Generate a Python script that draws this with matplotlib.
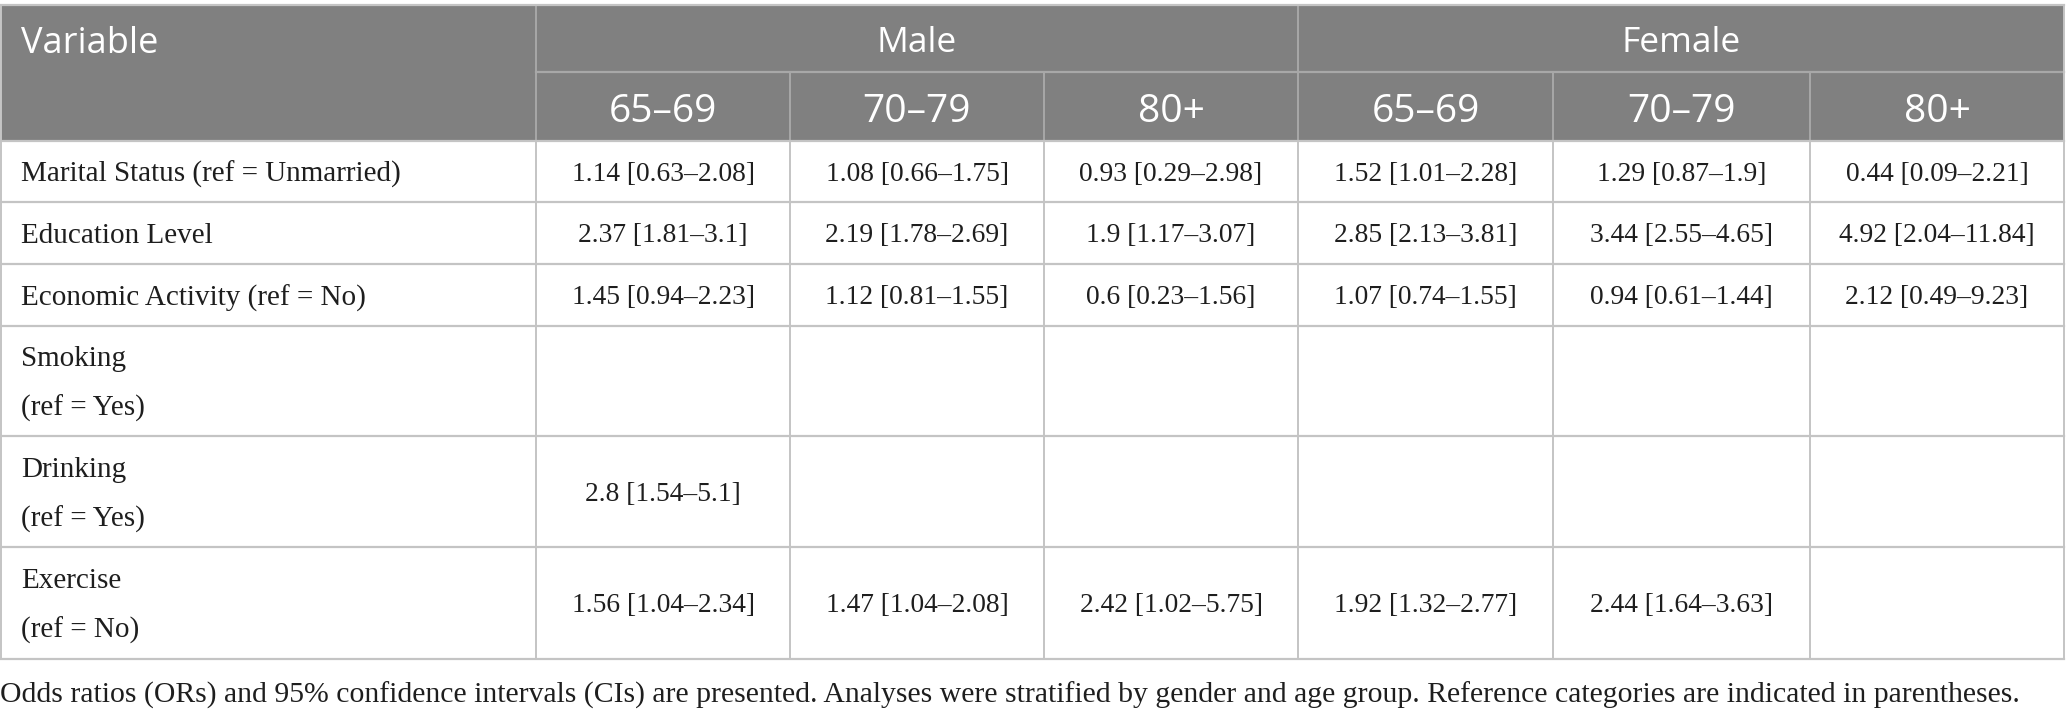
import matplotlib
matplotlib.use("Agg")
import matplotlib.pyplot as plt
from matplotlib.patches import Rectangle

# ---- data ----
variables = ["Marital Status (ref = Unmarried)", "Education Level", "Economic Activity (ref = No)",
             "Smoking\n(ref = Yes)", "Drinking\n(ref = Yes)", "Exercise\n(ref = No)"]
groups = ["Male", "Female"]
age_groups = ["65–69", "70–79", "80+"]
male_65_69 = ["1.14 [0.63–2.08]", "2.37 [1.81–3.1]", "1.45 [0.94–2.23]", "", "2.8 [1.54–5.1]", "1.56 [1.04–2.34]"]
male_70_79 = ["1.08 [0.66–1.75]", "2.19 [1.78–2.69]", "1.12 [0.81–1.55]", "", "", "1.47 [1.04–2.08]"]
male_80p = ["0.93 [0.29–2.98]", "1.9 [1.17–3.07]", "0.6 [0.23–1.56]", "", "", "2.42 [1.02–5.75]"]
female_65_69 = ["1.52 [1.01–2.28]", "2.85 [2.13–3.81]", "1.07 [0.74–1.55]", "", "", "1.92 [1.32–2.77]"]
female_70_79 = ["1.29 [0.87–1.9]", "3.44 [2.55–4.65]", "0.94 [0.61–1.44]", "", "", "2.44 [1.64–3.63]"]
female_80p = ["0.44 [0.09–2.21]", "4.92 [2.04–11.84]", "2.12 [0.49–9.23]", "", "", ""]
footnote = ("Odds ratios (ORs) and 95% confidence intervals (CIs) are presented. Analyses were stratified "
            "by gender and age group. Reference categories are indicated in parentheses.")

columns = [male_65_69, male_70_79, male_80p, female_65_69, female_70_79, female_80p]

# ---- layout (pixels) ----
W, H = 2067, 712
col_x = [1, 536, 790, 1044, 1298, 1553, 1810, 2064]
row_y = [5, 72, 141, 202, 264, 326, 436, 547, 659]
DY = 3  # text baseline nudge

HEAD_BG = "#808080"
GRID = "#c4c4c4"
HEAD_GRID = "#a8a8a8"
TXT = "#1e1e1e"
sans = ["Open Sans", "DejaVu Sans"]
serif = ["Liberation Serif", "DejaVu Serif"]

fig = plt.figure(figsize=(W / 100, H / 100), dpi=100)
ax = fig.add_axes([0, 0, 1, 1])
ax.set_xlim(0, W)
ax.set_ylim(H, 0)
ax.axis("off")

# header background
ax.add_patch(Rectangle((col_x[0], row_y[0]), col_x[-1] - col_x[0], row_y[2] - row_y[0],
                       facecolor=HEAD_BG, edgecolor="none"))

# header lines
ax.plot([col_x[1], col_x[-1]], [row_y[1], row_y[1]], color=HEAD_GRID, lw=1.6)
for i in range(1, len(col_x) - 1):
    top = row_y[0] if i in (1, 4) else row_y[1]
    ax.plot([col_x[i], col_x[i]], [top, row_y[2]], color=HEAD_GRID, lw=1.4)

# body grid
for y in row_y[2:]:
    ax.plot([col_x[0], col_x[-1]], [y, y], color=GRID, lw=1.6)
for x in col_x:
    ax.plot([x, x], [row_y[2], row_y[-1]], color=GRID, lw=1.4)
# outer header border
ax.plot([col_x[0], col_x[-1]], [row_y[0], row_y[0]], color=GRID, lw=1.6)
ax.plot([col_x[0], col_x[0]], [row_y[0], row_y[2]], color=GRID, lw=1.4)
ax.plot([col_x[-1], col_x[-1]], [row_y[0], row_y[2]], color=GRID, lw=1.4)

# header text
ax.text(col_x[0] + 20, 41 + DY, "Variable", family=sans, fontsize=26, color="white",
        ha="left", va="center")
for g, name in enumerate(groups):
    cx = (col_x[1 + 3 * g] + col_x[4 + 3 * g]) / 2
    ax.text(cx, 40 + DY, name, family=sans, fontsize=25.5, color="white", ha="center", va="center")
    for a, ag in enumerate(age_groups):
        c = 1 + 3 * g + a
        ax.text((col_x[c] + col_x[c + 1]) / 2, 109 + DY, ag, family=sans, fontsize=28,
                color="white", ha="center", va="center")

# body text
FS_LABEL = 21
FS_CELL = 19.8
for r, var in enumerate(variables):
    y0, y1 = row_y[2 + r], row_y[3 + r]
    yc = (y0 + y1) / 2 + DY
    lines = var.split("\n")
    step = 49
    start = yc - step / 2 * (len(lines) - 1)
    for k, ln in enumerate(lines):
        ax.text(col_x[0] + 20, start + k * step, ln, family=serif, fontsize=FS_LABEL,
                color=TXT, ha="left", va="center")
    for c, col in enumerate(columns):
        if col[r]:
            ax.text((col_x[c + 1] + col_x[c + 2]) / 2, yc, col[r], family=serif,
                    fontsize=FS_CELL, color=TXT, ha="center", va="center")

ax.text(0, 692 + DY, footnote, family=serif, fontsize=21.4, color=TXT, ha="left", va="center")

fig.savefig("out.png", dpi=100)
